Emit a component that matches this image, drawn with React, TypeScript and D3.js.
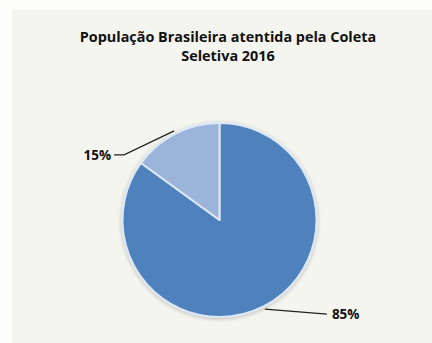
import React from "react";
import * as d3 from "d3";

const categories = ["Atendida", "Não atendida"];
const values = [85, 15];
const labels = ["85%", "15%"];
const colors = ["#4f81bd", "#9cb4d9"];
const titleLines = ["População Brasileira atentida pela Coleta", "Seletiva 2016"];

export default function App() {
  const W = 432, H = 343;
  const cx = 219.5, cy = 220, r = 97;
  const font = "'Open Sans', Lato, sans-serif";
  const pie = d3.pie<number>().sort(null).value((d) => d)(values);
  const arc = d3.arc<d3.PieArcDatum<number>>().innerRadius(0).outerRadius(r);
  const polar = (a: number, rad: number) => [cx + rad * Math.sin(a), cy - rad * Math.cos(a)];
  const labelGeo = pie.map((p) => {
    const mid = (p.startAngle + p.endAngle) / 2;
    const [x0, y0] = polar(mid, r + 3);
    if (Math.sin(mid) >= 0) {
      const x1 = x0 + 62, y1 = y0 + 5;
      return { pts: [[x0, y0], [x1, y1]], tx: x1 + 5, ty: y1, anchor: "start" };
    } else {
      const x1 = x0 - 50, y1 = y0 + 24;
      const x2 = x1 - 10;
      return { pts: [[x0, y0], [x1, y1], [x2, y1]], tx: x2 - 3, ty: y1, anchor: "end" };
    }
  });
  const line = d3.line();
  return (
    <svg width={W} height={H} style={{ position: "absolute", left: 0, top: 0, display: "block" }}>
      <defs>
        <filter id="sh" x="-20%" y="-20%" width="140%" height="140%">
          <feGaussianBlur in="SourceAlpha" stdDeviation="2" />
          <feOffset dx="0" dy="1" result="b" />
          <feComponentTransfer><feFuncA type="linear" slope="0.25" /></feComponentTransfer>
          <feMerge><feMergeNode /><feMergeNode in="SourceGraphic" /></feMerge>
        </filter>
      </defs>
      <rect x={0} y={0} width={W} height={H} fill="#fdfdfb" />
      <rect x={12} y={10} width={W - 12} height={H - 10} fill="#f5f5f0" />
      <g fontFamily={font} fontWeight="bold" fontSize={14.4} fill="#111" textAnchor="middle">
        {titleLines.map((t, i) => (
          <text key={i} x={228} y={42 + i * 19}>{t}</text>
        ))}
      </g>
      <g transform={`translate(${cx},${cy})`} filter="url(#sh)">
        {pie.map((p, i) => (
          <path key={categories[i]} d={arc(p) || ""} fill={colors[i]} stroke="#dce8f6" strokeWidth={2} strokeLinejoin="round" />
        ))}
      </g>
      {labelGeo.map((g, i) => (
        <g key={i}>
          <path d={line(g.pts as [number, number][]) || ""} fill="none" stroke="#222" strokeWidth={1.3} />
          <text x={g.tx} y={g.ty} dy="0.35em" textAnchor={g.anchor} fontFamily={font} fontWeight="bold" fontSize={13.5} fill="#111">
            {labels[i]}
          </text>
        </g>
      ))}
    </svg>
  );
}
